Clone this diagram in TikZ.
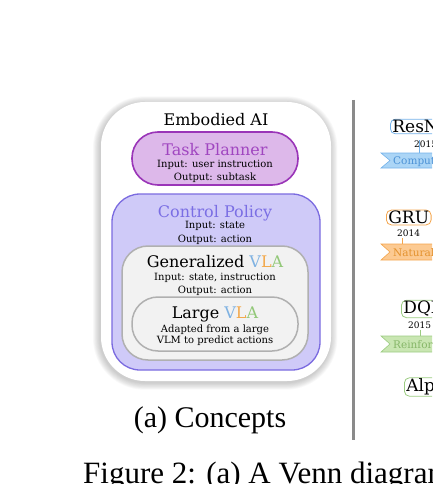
\documentclass[tikz,border=0pt]{standalone}
\usepackage{fontspec}
\setmainfont{Liberation Serif}
\newfontfamily\gfont{DejaVu Serif}
\definecolor{tpfill}{HTML}{DDB8EA}
\definecolor{tpdraw}{HTML}{9A35B8}
\definecolor{tptext}{HTML}{A046C0}
\definecolor{cpfill}{HTML}{CFCAF8}
\definecolor{cpdraw}{HTML}{7B6BE0}
\definecolor{cptext}{HTML}{7A6EE4}
\definecolor{gvfill}{HTML}{F2F2F2}
\definecolor{gvdraw}{HTML}{B0B0B0}
\definecolor{vblue}{HTML}{7FB2E2}
\definecolor{lorange}{HTML}{F2A84A}
\definecolor{agreen}{HTML}{92C878}
\definecolor{bfill}{HTML}{ABD5F6}
\definecolor{bdraw}{HTML}{74B2EA}
\definecolor{btext}{HTML}{4C92D6}
\definecolor{ofill}{HTML}{FCCA92}
\definecolor{odraw}{HTML}{F4A54C}
\definecolor{otext}{HTML}{E4922E}
\definecolor{gfill}{HTML}{C9E6B2}
\definecolor{gdraw}{HTML}{9CCC82}
\definecolor{gtext}{HTML}{86B668}
\definecolor{divider}{HTML}{8A8A8A}
\newcommand{\vla}{{\color{vblue}V}{\color{lorange}L}{\color{agreen}A}}
\tikzset{
  title/.style={anchor=base, inner sep=0pt, font=\gfont\fontsize{16}{18}\selectfont},
  small/.style={anchor=base, inner sep=0pt, font=\gfont\fontsize{10}{11}\selectfont},
  modelbox/.style={anchor=west, rounded corners=5pt, line width=0.8pt, fill=white, inner xsep=2pt, inner ysep=1pt, font=\gfont\fontsize{17}{19}\selectfont},
  year/.style={anchor=base west, inner sep=0pt, font=\gfont\fontsize{9}{10}\selectfont},
  field/.style={anchor=base west, inner sep=0pt, font=\gfont\fontsize{10.5}{12}\selectfont},
}
\begin{document}
\begin{tikzpicture}[x=1pt,y=-1pt]
\useasboundingbox (0,0) rectangle (432,484);
\clip (0,0) rectangle (432,484);
% soft shadow of the outer box
\foreach \i in {1,...,9} {
  \pgfmathsetmacro{\rr}{44+\i*0.8}
  \fill[black, opacity=0.025, rounded corners=\rr pt]
    ({101-\i*0.8-0.8},{102-\i*0.8+1.5}) rectangle ({331+\i*0.8-0.8},{381+\i*0.8+1.5});
}
% outer box
\fill[white, rounded corners=44pt] (101,102) rectangle (331,381);
\node (emb) [title] at (216,125) {Embodied AI};
% task planner
\node (tp) [draw=tpdraw, fill=tpfill, line width=1.6pt, rounded corners=26pt, minimum width=166pt, minimum height=53pt, inner sep=0pt] at (215,158.5) {};
\node (tpt) [title, text=tptext] at (215,155) {Task Planner};
\node (tpi) [small] at (215,167) {Input: user instruction};
\node (tpo) [small] at (215,180) {Output: subtask};
% control policy
\node (cp) [draw=cpdraw, fill=cpfill, line width=1.3pt, rounded corners=28pt, minimum width=208pt, minimum height=176pt, inner sep=0pt] at (216,282) {};
\node (cpt) [title, text=cptext] at (215,217) {Control Policy};
\node (cpi) [small] at (215,228) {Input: state};
\node (cpo) [small] at (215,242) {Output: action};
% generalized VLA
\node (gv) [draw=gvdraw, fill=gvfill, line width=1.5pt, rounded corners=26pt, minimum width=186pt, minimum height=114pt, inner sep=0pt] at (215,303) {};
\node (gvt) [title] at (215,267) {Generalized \vla};
\node (gvi) [small] at (215,280) {Input: state, instruction};
\node (gvo) [small] at (215,293) {Output: action};
% large VLA
\node (lv) [draw=gvdraw, fill=gvfill, line width=1.5pt, rounded corners=26pt, minimum width=166pt, minimum height=54pt, inner sep=0pt] at (215,324) {};
\node (lvt) [title] at (215,318) {Large \vla};
\node (lva) [small] at (215,332) {Adapted from a large};
\node (lvb) [small] at (215,343) {VLM to predict actions};
% caption
\node (capa) [anchor=base, inner sep=0pt, font=\fontsize{30}{33}\selectfont] at (210,427) {(a) Concepts};
\node (fig) [anchor=base west, inner sep=0pt, font=\fontsize{31}{34}\selectfont] at (83,483) {Figure 2: (a) A Venn diagram of};
% divider
\draw[divider, line width=2.5pt] (353.5,100) coordinate (d1) -- (353.5,440) coordinate (d2);
% right side timeline fragments
% ResNet
\node (rn) [modelbox, draw=bdraw] at (390,126.5) {ResNet};
\coordinate (rnl) at (419,140);
\coordinate (cvt) at (419,153);
\draw[bdraw, line width=0.5pt] (rnl) -- (cvt);
\node (rny) [year] at (414,147) {2015};
\path[fill=bfill, draw=bdraw, line width=0.6pt] (381,153) coordinate (cv) -- (440,153) -- (440,168) -- (381,168) -- (390,160.5) -- cycle;
\node (cvtext) [field, text=btext] at (393,164.5) {Computer Vision};
% GRU
\node (gru) [modelbox, draw=odraw] at (386,217.5) {GRU};
\coordinate (grl) at (402,238);
\coordinate (nlt) at (402,244);
\draw[odraw, line width=0.5pt] (grl) -- (nlt);
\node (gry) [year] at (397,236) {2014};
\path[fill=ofill, draw=odraw, line width=0.6pt] (381,244) coordinate (nl) -- (440,244) -- (440,260) -- (381,260) -- (390,252) -- cycle;
\node (nltext) [field, text=otext] at (393,256) {Natural Language Processing};
% DQN
\node (dqn) [modelbox, draw=gdraw] at (401,309) {DQN};
\coordinate (dql) at (420,330);
\coordinate (rlt) at (420,336);
\draw[gdraw, line width=0.5pt] (dql) -- (rlt);
\node (dqy) [year] at (408,328) {2015};
\path[fill=gfill, draw=gdraw, line width=0.6pt] (381,336) coordinate (rl) -- (440,336) -- (440,352) -- (381,352) -- (390,344) -- cycle;
\node (rltext) [field, text=gtext] at (393,348) {Reinforcement Learning};
% AlphaGo
\node (alp) [modelbox, draw=gdraw] at (404,387) {AlphaGo};
\end{tikzpicture}
\end{document}
